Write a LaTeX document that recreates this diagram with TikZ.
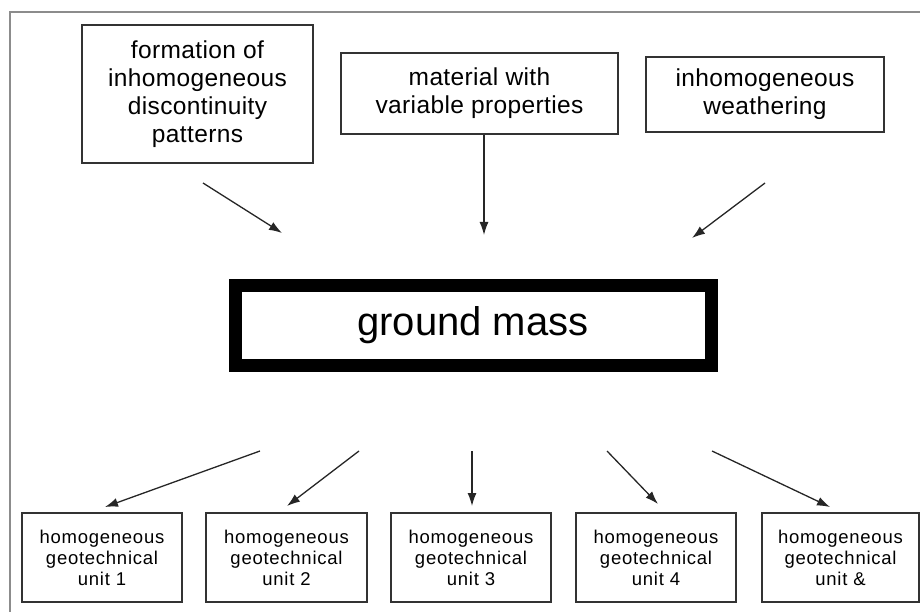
\documentclass[tikz,border=0pt]{standalone}
\usepackage{fontspec}
\setmainfont{Liberation Sans}
\newfontfamily\boxfont[LetterSpace=1.5]{Liberation Sans}
\newfontfamily\unitfont[LetterSpace=4]{Liberation Sans}
\usetikzlibrary{arrows.meta, positioning}
\tikzset{
	>={Latex[length=13pt, width=9pt]},
	cause/.style={draw=black!80, line width=1.4pt, inner sep=0pt, align=center,
		font=\boxfont\fontsize{24.5}{28}\selectfont},
	unit/.style={draw=black!80, line width=1.4pt, inner sep=0pt, align=center,
		minimum height=89pt, font=\unitfont\fontsize{18.5}{21}\selectfont},
	mass/.style={draw=black, line width=13pt, inner sep=0pt, minimum width=476pt,
		minimum height=80.5pt, font=\fontsize{40}{46}\selectfont},
	flow/.style={->, draw=black!85, line width=1.3pt}
}
\begin{document}
\begin{tikzpicture}[x=1pt, y=-1pt]
	\useasboundingbox (0,0) rectangle (920,612);
	\draw[black!45, line width=1.6pt] (10,12) rectangle (960,660);

	\node[cause, minimum width=231pt, minimum height=138pt] (form) at (197.5,94) {formation of\\inhomogeneous\\discontinuity\\patterns};
	\node[cause, minimum width=277pt, minimum height=81pt] (mat) at (479.5,93.5) {material with\\variable properties};
	\node[cause, minimum width=238pt, minimum height=75pt] (weath) at (765,94.5) {inhomogeneous\\weathering};

	\node[mass] (gm) at (473,325.5) {ground mass};

	\node[unit, minimum width=160pt] (u1) at (102,557.5) {homogeneous\\geotechnical\\unit 1};
	\node[unit, minimum width=161pt] (u2) at (286.5,557.5) {homogeneous\\geotechnical\\unit 2};
	\node[unit, minimum width=160pt] (u3) at (471,557.5) {homogeneous\\geotechnical\\unit 3};
	\node[unit, minimum width=160pt] (u4) at (656,557.5) {homogeneous\\geotechnical\\unit 4};
	\node[unit, minimum width=157pt] (u5) at (840.5,557.5) {homogeneous\\geotechnical\\unit \&};

	% free arrow ends
	\coordinate (a1) at (203,183);   \coordinate (b1) at (282,233);
	\coordinate (b2) at (484,235);
	\coordinate (a3) at (765,183);   \coordinate (b3) at (692,238);
	\coordinate (s1) at (260,451);   \coordinate (t1) at (105,507);
	\coordinate (s2) at (359,451);   \coordinate (t2) at (287,506);
	\coordinate (s3) at (472,451);   \coordinate (t3) at (472,506);
	\coordinate (s4) at (607,451);   \coordinate (t4) at (658,504);
	\coordinate (s5) at (712,451);   \coordinate (t5) at (830,507);

	% into the ground mass
	\draw[flow] (a1) -- (b1);
	\draw[flow] (mat.south -| b2) -- (b2);
	\draw[flow] (a3) -- (b3);

	% out to the units
	\draw[flow] (s1) -- (t1);
	\draw[flow] (s2) -- (t2);
	\draw[flow] (s3) -- (t3);
	\draw[flow] (s4) -- (t4);
	\draw[flow] (s5) -- (t5);
\end{tikzpicture}
\end{document}
